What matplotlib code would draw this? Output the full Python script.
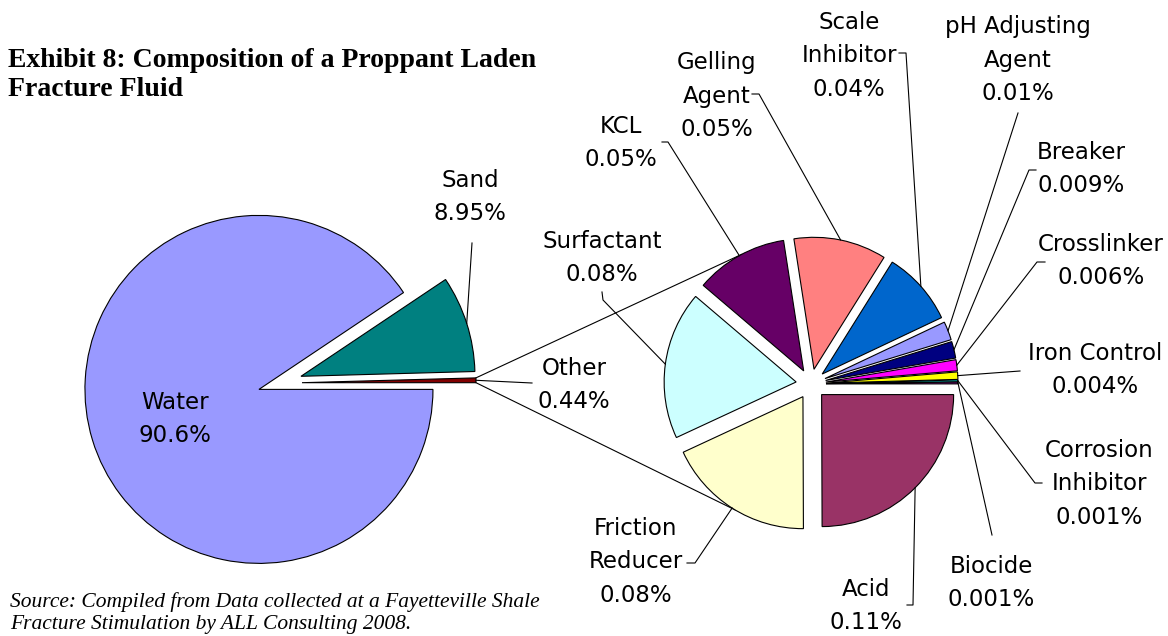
import numpy as np
import matplotlib.pyplot as plt

W, H = 1168, 636

# primary pie (clockwise from 3 o'clock is handled by startangle / order)
main_names = ["Other", "Sand", "Water"]
main_values = [0.44, 8.95, 90.6]
main_pct = ["0.44%", "8.95%", "90.6%"]
main_colors = ["#800000", "#008080", "#9999FF"]

# secondary pie, the break-out of "Other"
sub_names = ["Acid", "Friction\nReducer", "Surfactant", "KCL", "Gelling\nAgent",
             "Scale\nInhibitor", "pH Adjusting\nAgent", "Breaker", "Crosslinker",
             "Iron Control", "Corrosion\nInhibitor", "Biocide"]
sub_values = [0.11, 0.08, 0.08, 0.05, 0.05, 0.04, 0.01, 0.009, 0.006, 0.004, 0.001, 0.001]
sub_pct = ["0.11%", "0.08%", "0.08%", "0.05%", "0.05%", "0.04%", "0.01%", "0.009%",
           "0.006%", "0.004%", "0.001%", "0.001%"]
sub_colors = ["#993366", "#FFFFCC", "#CCFFFF", "#660066", "#FF8080", "#0066CC",
              "#9999FF", "#000080", "#FF00FF", "#FFFF00", "#00FFFF", "#800080"]

# label placement in image pixels: text centre, then leader points from label toward slice
main_lab = {
    "Water": ((175, 419), []),
    "Sand": ((470, 197), [(472, 243)]),
    "Other": ((574, 385), [(532, 383)]),
}
sub_lab = {
    "Acid": ((866, 606), [(907, 605), (913, 605)]),
    "Friction\nReducer": ((636, 562), [(687, 563), (695, 563)]),
    "Surfactant": ((602, 258), [(602, 292), (603, 300)]),
    "KCL": ((621, 143), [(662, 142), (668, 142)]),
    "Gelling\nAgent": ((717, 96), [(752, 94), (759, 94)]),
    "Scale\nInhibitor": ((849, 56), [(899, 53), (906, 53)]),
    "pH Adjusting\nAgent": ((1018, 60), [(1018, 113)]),
    "Breaker": ((1081, 169), [(1036, 170), (1029, 170)]),
    "Crosslinker": ((1101, 261), [(1045, 262), (1037, 262)]),
    "Iron Control": ((1095, 370), [(1020, 371)]),
    "Corrosion\nInhibitor": ((1099, 484), [(1042, 483), (1035, 483)]),
    "Biocide": ((991, 583), [(992, 535)]),
}


def Y(y):
    return H - y


def arc_mid(w):
    a = np.deg2rad((w.theta1 + w.theta2) / 2)
    return w.center[0] + w.r * np.cos(a), w.center[1] + w.r * np.sin(a)


def leader(ax, start, pts):
    xs = [start[0]] + [p[0] for p in pts[::-1]]
    ys = [start[1]] + [Y(p[1]) for p in pts[::-1]]
    ax.plot(xs, ys, color="black", lw=0.8, zorder=1)


fig = plt.figure(figsize=(W / 100, H / 100), dpi=100)
ax = fig.add_axes([0, 0, 1, 1])

wp = dict(edgecolor="black", linewidth=0.8)
left_c, left_r = (280, Y(383)), 174
right_c, right_r = (811, Y(384)), 132

lw_, _ = ax.pie(main_values, colors=main_colors, startangle=0, counterclock=True,
                center=left_c, radius=left_r, explode=[22] * 3, normalize=True,
                wedgeprops=wp)
rw_, _ = ax.pie(sub_values, colors=sub_colors, startangle=0, counterclock=False,
                center=right_c, radius=right_r, explode=[15] * len(sub_values),
                normalize=True, wedgeprops=wp)

# series lines from the "Other" slice to the secondary pie
other = lw_[0]
for th, ang in [(other.theta2, 118), (other.theta1, -121)]:
    x0 = other.center[0] + other.r * np.cos(np.deg2rad(th))
    y0 = other.center[1] + other.r * np.sin(np.deg2rad(th))
    x1 = right_c[0] + (right_r + 15) * np.cos(np.deg2rad(ang))
    y1 = right_c[1] + (right_r + 15) * np.sin(np.deg2rad(ang))
    ax.plot([x0, x1], [y0, y1], color="black", lw=0.8, zorder=0)

tkw = dict(ha="center", va="center", fontsize=16.5, family="DejaVu Sans",
           linespacing=1.6, multialignment="center")

for w, name, pct in zip(lw_, main_names, main_pct):
    (tx, ty), pts = main_lab[name]
    ax.text(tx, Y(ty), f"{name}\n{pct}", **tkw)
    if pts:
        leader(ax, arc_mid(w), pts)

for w, name, pct in zip(rw_, sub_names, sub_pct):
    (tx, ty), pts = sub_lab[name]
    ax.text(tx, Y(ty), f"{name}\n{pct}", **tkw)
    leader(ax, arc_mid(w), pts)

ax.text(8, Y(75), "Exhibit 8: Composition of a Proppant Laden\nFracture Fluid",
        ha="left", va="center", fontsize=20, fontweight="bold",
        family="Liberation Serif", linespacing=1.2)
ax.text(10, Y(613), "Source: Compiled from Data collected at a Fayetteville Shale\n"
        "Fracture Stimulation by ALL Consulting 2008.",
        ha="left", va="center", fontsize=15.5, style="italic",
        family="Liberation Serif", linespacing=1.15)

ax.set_xlim(0, W)
ax.set_ylim(0, H)
ax.set_aspect("auto")
ax.axis("off")

fig.savefig("out.png", dpi=100)
